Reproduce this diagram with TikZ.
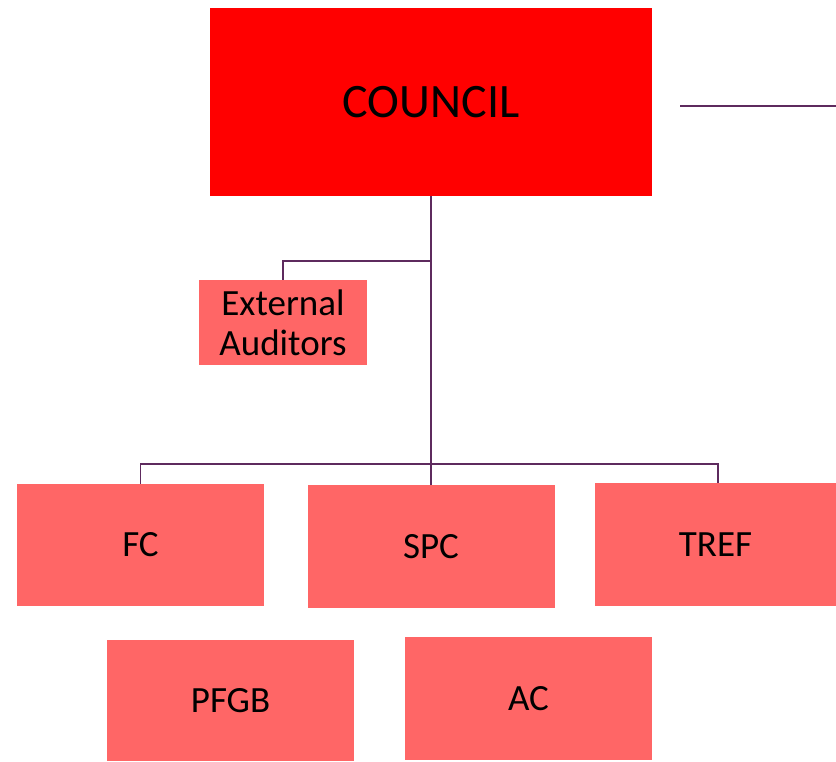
\documentclass[tikz,border=0pt]{standalone}
\usepackage{fontspec}
\setmainfont{Carlito}
\definecolor{councilred}{HTML}{FF0000}
\definecolor{boxred}{HTML}{FF6666}
\definecolor{linepurple}{HTML}{5E2A5E}
\begin{document}
\begin{tikzpicture}[x=1pt,y=-1pt,
  box/.style={fill=boxred, draw=none, inner sep=0pt, align=center,
    font=\fontsize{37}{40}\selectfont},
  conn/.style={draw=linepurple, line width=1.4pt}]
\useasboundingbox (0,0) rectangle (836,762);
\node[fill=councilred, inner sep=0pt, minimum width=442pt, minimum height=188pt,
  font=\fontsize{48}{56}\selectfont] (council) at (431,102) {COUNCIL};
\node[box, minimum width=168pt, minimum height=85pt] (ea) at (283,322.5) {External\\Auditors};
\node[box, minimum width=247pt, minimum height=122pt] (fc) at (140.5,545) {FC};
\node[box, minimum width=247pt, minimum height=123pt] (spc) at (431,546.5) {SPC};
\node[box, minimum width=241pt, minimum height=123pt] (tref) at (715.5,544.5) {TREF};
\node[box, minimum width=247pt, minimum height=121pt] (pfgb) at (230.5,700.5) {PFGB};
\node[box, minimum width=247pt, minimum height=123pt] (ac) at (528.5,698.5) {AC};
\coordinate (hub) at (431,464);
\coordinate (eaj) at (431,261);
\coordinate (r1) at (680,106);
\coordinate (r2) at (836,106);
\draw[conn] (council.south) -- (hub);
\draw[conn] (eaj) -| (ea.north);
\draw[conn] (fc.north) |- (hub) -| ([xshift=2.5pt]tref.north);
\draw[conn] (hub) -- (spc.north);
\draw[conn] (r1) -- (r2);
\end{tikzpicture}
\end{document}
